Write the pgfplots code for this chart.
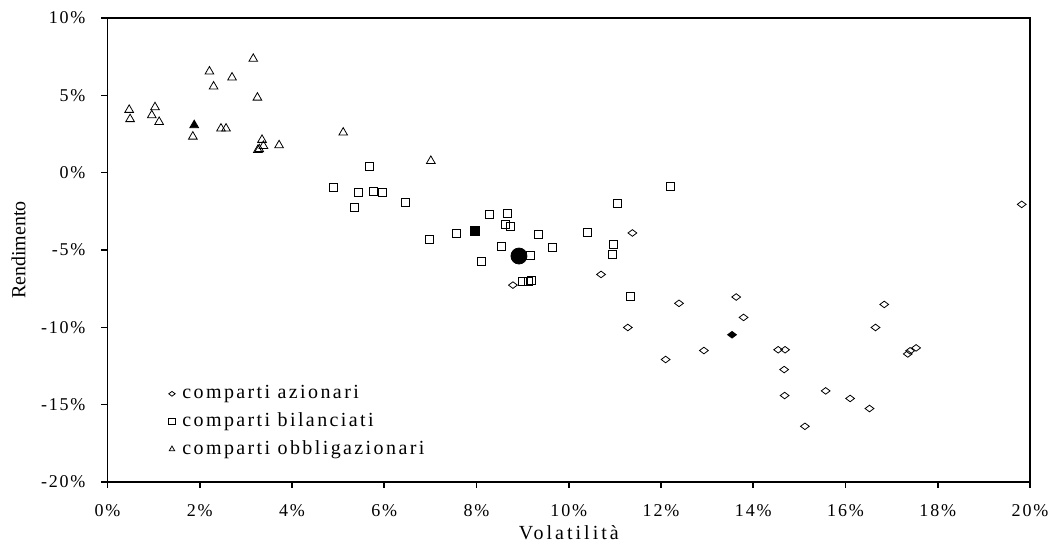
\documentclass[border=0pt]{standalone}
\usepackage{fontspec}
\setmainfont{Liberation Serif}
\newfontfamily\spfont{Liberation Serif}[LetterSpace=10]
\newfontfamily\lgfont{Liberation Serif}[LetterSpace=12]
\newfontfamily\xlfont{Liberation Serif}[LetterSpace=15]
\usepackage{pgfplots}
\pgfplotsset{compat=1.18}

\begin{document}
\begin{tikzpicture}
\useasboundingbox (0,0) rectangle (526pt,272pt);
\begin{axis}[
  at={(53.75pt,31pt)}, anchor=south west,
  width=461.25pt, height=232pt, scale only axis,
  xmin=0, xmax=20, ymin=-20, ymax=10,
  xtick={0,2,4,6,8,10,12,14,16,18,20},
  xticklabels={0\%,2\%,4\%,6\%,8\%,10\%,12\%,14\%,16\%,18\%,20\%},
  ytick={-20,-15,-10,-5,0,5,10},
  yticklabels={-20\%,-15\%,-10\%,-5\%,0\%,5\%,10\%},
  tick align=outside, xtick pos=bottom, ytick pos=left,
  major tick length=3pt,
  axis line style={line width=0.8pt},
  tick style={line width=0.8pt, black},
  ticklabel style={font=\fontsize{9}{10}\spfont},
  xticklabel style={yshift=-4.5pt},
  yticklabel style={xshift=-4.5pt},
  xlabel={\xlfont Volatilità}, ylabel={Rendimento},
  label style={font=\fontsize{10}{12}\selectfont},
  xlabel style={at={(axis description cs:0.5,-0.11)}, anchor=center},
  ylabel style={at={(axis description cs:-0.0965,0.5)}, anchor=center},
  legend style={draw=none, fill=none, at={(0.066,0.13)}, anchor=west,
    font=\fontsize{10}{12}\lgfont, row sep=1.5pt, inner sep=0pt},
  legend cell align=left,
  legend image code/.code={\draw[#1, mark size=1.6pt] plot coordinates {(0pt,0pt)}; \path (3pt,0pt);},
  every axis plot/.append style={mark options={line width=0.9pt, solid}},
]
% comparti azionari
\addplot[only marks, mark=diamond, mark size=2.2pt, mark options={rotate=90, fill=white}] coordinates {
(11.38,-3.90) (10.70,-6.58) (8.79,-7.27) (11.28,-10.01) (19.82,-2.05)
(12.39,-8.45) (13.63,-8.04) (13.79,-9.36) (12.93,-11.50) (12.10,-12.08)
(14.54,-11.45) (14.69,-11.45) (14.67,-12.73) (14.68,-14.41) (15.12,-16.40)
(15.57,-14.11) (16.10,-14.60) (16.52,-15.25) (16.65,-10.01) (16.84,-8.52)
(17.35,-11.72) (17.40,-11.52) (17.53,-11.33)
};
\addlegendentry{comparti azionari}
% comparti bilanciati
\addplot[only marks, mark=square, mark size=2pt, mark options={fill=white}] coordinates {
(5.67,0.39) (4.89,-0.97) (5.44,-1.29) (5.77,-1.18) (5.97,-1.27)
(6.45,-1.94) (5.36,-2.27) (6.98,-4.31) (7.57,-3.90) (8.29,-2.72)
(8.66,-2.63) (8.63,-3.32) (8.74,-3.45) (8.54,-4.76) (8.11,-5.76)
(9.16,-5.37) (9.00,-7.01) (9.13,-7.00) (9.18,-6.95) (9.35,-3.97)
(9.65,-4.85) (10.41,-3.88) (12.20,-0.86) (11.06,-1.98) (10.97,-4.63)
(10.95,-5.28) (11.34,-8.02)
};
\addlegendentry{comparti bilanciati}
% comparti obbligazionari
\addplot[only marks, mark=triangle, mark size=2.5pt, mark options={fill=white}] coordinates {
(0.47,4.06) (0.49,3.46) (1.03,4.23) (0.96,3.71) (1.12,3.28)
(1.85,2.33) (2.21,6.54) (2.30,5.57) (2.70,6.15) (2.46,2.85)
(2.57,2.85) (3.16,7.36) (3.25,4.85) (3.35,2.12) (3.38,1.73)
(3.29,1.52) (3.26,1.47) (3.72,1.77) (5.11,2.59) (7.01,0.76)
};
\addlegendentry{comparti obbligazionari}
% averages (filled)
\addplot[forget plot, only marks, mark=diamond*, mark size=2.2pt, mark options={rotate=90, fill=black}] coordinates {(13.54,-10.48)};
\addplot[forget plot, only marks, mark=square*, mark size=2.2pt, mark options={fill=black}] coordinates {(7.97,-3.75)};
\addplot[forget plot, only marks, mark=triangle*, mark size=2.5pt, mark options={fill=black}] coordinates {(1.88,3.07)};
\addplot[forget plot, only marks, mark=*, mark size=4pt, mark options={fill=black}] coordinates {(8.92,-5.39)};
\end{axis}
\end{tikzpicture}
\end{document}
